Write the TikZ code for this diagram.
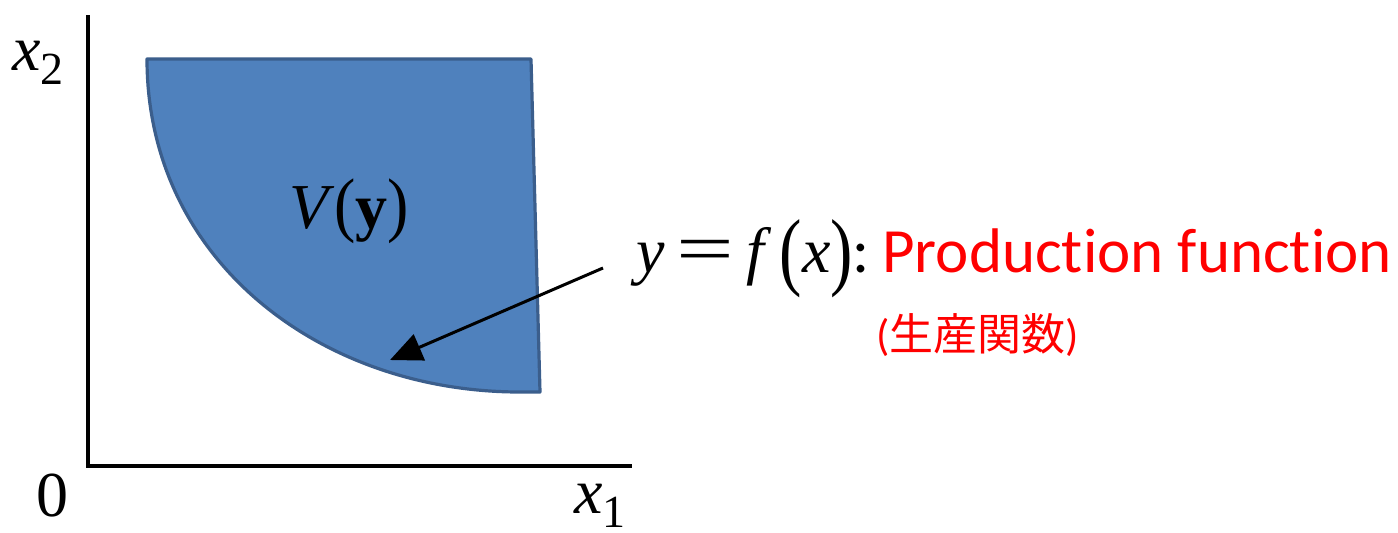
\documentclass[tikz,border=0pt]{standalone}
\usepackage{fontspec}
\usepackage{graphicx}
\setmainfont{Liberation Serif}
\newfontfamily\calib[Ligatures={NoCommon,NoRequired,NoContextual}]{Carlito}
\newfontfamily\cjk{Noto Sans CJK JP}
\usetikzlibrary{arrows.meta}
\definecolor{fillblue}{HTML}{4F81BD}
\definecolor{edgeblue}{HTML}{3B5E8C}
\definecolor{labred}{HTML}{FF0000}
\tikzset{
  axis/.style={line width=2pt, black},
  region/.style={fill=fillblue, draw=edgeblue, line width=1.6pt, line join=round},
  pointer/.style={line width=1.5pt, -{Triangle[length=16pt,width=14pt]}},
  lab/.style={inner sep=0pt, anchor=base west, font=\fontsize{32}{36}\selectfont},
  redlab/.style={inner sep=0pt, anchor=base west, text=labred}
}
\begin{document}
\begin{tikzpicture}[x=0.5pt, y=-0.5pt]
\useasboundingbox (0,0) rectangle (1398,532);
% region V(y)
\coordinate (tl) at (147,59);
\coordinate (tr) at (531,59);
\coordinate (br) at (540,392);
\draw[region] (tl) -- (tr) -- (br) -- (520,392) .. controls (320,392) and (147,260) .. (tl) -- cycle;
% axes
\coordinate (top) at (88,15);
\coordinate (orig) at (88,466);
\coordinate (right) at (632,466);
\draw[axis] (top) -- (orig) -- (right);
% axis labels
\node[lab] (x2) at (12,70) {\textit{x}\raisebox{-7pt}{\fontsize{23}{26}\selectfont 2}};
\node[lab] (zero) at (36,516) {0};
\node[lab] (x1) at (574,513) {\textit{x}\raisebox{-7pt}{\fontsize{23}{26}\selectfont 1}};
% V(y)
\node[lab] (V) at (289,228) {\textit{V}\scalebox{1}[1.12]{(}\textbf{y}\scalebox{1}[1.12]{)}};
% production function label
\node[lab] (eq) at (636,272) {\textit{y}\hspace{6pt}\scalebox{1.6}[1.1]{=}\hspace{6pt}\textit{f}\hspace{4pt}\raisebox{-3.5pt}{\scalebox{1.05}[1.35]{(}}\textit{x}\raisebox{-3.5pt}{\scalebox{1.05}[1.35]{)}}{\calib :}};
\node[redlab, font=\calib\fontsize{31.5}{36}\selectfont] (pf) at (882,272) {Production function};
\node[redlab, font=\fontsize{22}{26}\selectfont] (jp) at (876,350) {\calib(\cjk 生産関数\calib)};
% arrow
\coordinate (astart) at (603,268);
\coordinate (aend) at (390,360);
\draw[pointer] (astart) -- (aend);
\end{tikzpicture}
\end{document}
